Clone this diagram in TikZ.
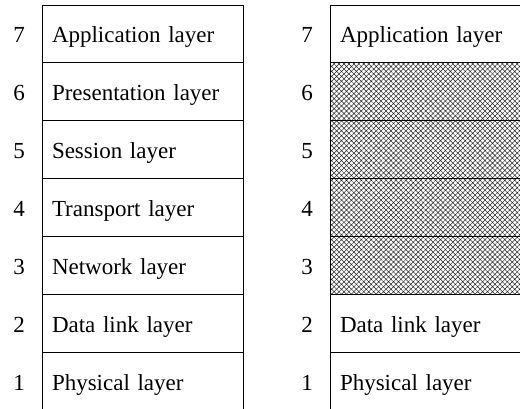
\documentclass[tikz,border=0pt]{standalone}
\usepackage{fontspec}
\setmainfont{Liberation Serif}
\usetikzlibrary{positioning, patterns.meta}

\tikzset{
  layerbox/.style={draw, line width=0.8pt, outer sep=0pt, text width=181pt, inner xsep=10pt, inner ysep=0pt, minimum height=57.86pt},
  hatched/.style={pattern={Hatch[angle=45, distance=3.5pt, line width=0.5pt]}, pattern color=black!85},
  numlabel/.style={inner sep=0pt}
}

\begin{document}
\begin{tikzpicture}[x=1pt, y=1pt, every node/.style={font=\fontsize{23}{27}\selectfont, text height=22pt, text depth=4pt}]
                \clip (0,0) rectangle (520,408);
                % full stack
                \node[layerbox, anchor=north west] (a7) at (42,403) {Application layer};
                \node[layerbox, below=0pt of a7] (a6) {Presentation layer};
                \node[layerbox, below=0pt of a6] (a5) {Session layer};
                \node[layerbox, below=0pt of a5] (a4) {Transport layer};
                \node[layerbox, below=0pt of a4] (a3) {Network layer};
                \node[layerbox, below=0pt of a3] (a2) {Data link layer};
                \node[layerbox, below=0pt of a2] (a1) {Physical layer};
                \node[numlabel, left=17pt of a7] {7};
                \node[numlabel, left=17pt of a6] {6};
                \node[numlabel, left=17pt of a5] {5};
                \node[numlabel, left=17pt of a4] {4};
                \node[numlabel, left=17pt of a3] {3};
                \node[numlabel, left=17pt of a2] {2};
                \node[numlabel, left=17pt of a1] {1};
                % reduced stack
                \node[layerbox, anchor=north west] (b7) at (330,403) {Application layer};
                \node[layerbox, hatched, below=0pt of b7] (b6) {};
                \node[layerbox, hatched, below=0pt of b6] (b5) {};
                \node[layerbox, hatched, below=0pt of b5] (b4) {};
                \node[layerbox, hatched, below=0pt of b4] (b3) {};
                \node[layerbox, below=0pt of b3] (b2) {Data link layer};
                \node[layerbox, below=0pt of b2] (b1) {Physical layer};
                \node[numlabel, left=17pt of b7] {7};
                \node[numlabel, left=17pt of b6] {6};
                \node[numlabel, left=17pt of b5] {5};
                \node[numlabel, left=17pt of b4] {4};
                \node[numlabel, left=17pt of b3] {3};
                \node[numlabel, left=17pt of b2] {2};
                \node[numlabel, left=17pt of b1] {1};
            \end{tikzpicture}
\end{document}
